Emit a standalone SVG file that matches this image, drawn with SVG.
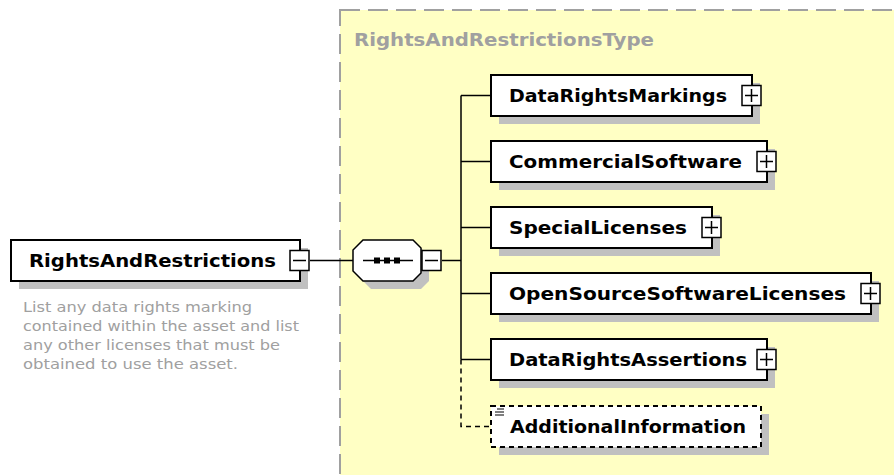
<svg xmlns="http://www.w3.org/2000/svg" width="894" height="475" viewBox="0 0 894 475">
<style>
.box{fill:#fff;stroke:#000;stroke-width:2}
.dbox{fill:#fff;stroke:#000;stroke-width:2;stroke-dasharray:5,4}
.sh{fill:#c0c0c0}
.lbl{font-family:"DejaVu Sans",sans-serif;font-weight:bold;font-size:17px;fill:#000}
.desc{font-family:"DejaVu Sans",sans-serif;font-size:14px;fill:#a0a0a0}
.btn{fill:#fff;stroke:#000;stroke-width:1.5}
.sign{stroke:#000;stroke-width:1.5;fill:none}
.con{stroke:#000;stroke-width:1.5;fill:none}
</style>
<rect x="0" y="0" width="894" height="475" fill="#fff"/>
<g id="type-region">
<rect x="340" y="10" width="560" height="470" fill="#ffffc4" stroke="#a0a0a0" stroke-width="2" stroke-dasharray="20,8"/>
<text x="354" y="46" font-family="DejaVu Sans,sans-serif" font-weight="bold" font-size="17" fill="#a0a0a0" textLength="300" lengthAdjust="spacingAndGlyphs">RightsAndRestrictionsType</text>
</g>
<g id="connectors">
<line class="con" x1="310" y1="260.5" x2="353" y2="260.5"/>
<line class="con" x1="442" y1="260.5" x2="461" y2="260.5"/>
<line class="con" x1="461" y1="95.5" x2="461" y2="359.5"/>
<line class="con" x1="461" y1="95.5" x2="491" y2="95.5"/>
<line class="con" x1="461" y1="161.5" x2="491" y2="161.5"/>
<line class="con" x1="461" y1="227.5" x2="491" y2="227.5"/>
<line class="con" x1="461" y1="293.5" x2="491" y2="293.5"/>
<line class="con" x1="461" y1="359.5" x2="491" y2="359.5"/>
<path class="con" d="M461 359.5 V426.5 H491" stroke-dasharray="5,4"/>
</g>
<g id="RightsAndRestrictions">
<rect class="sh" x="19" y="248" width="289" height="41"/>
<rect class="box" x="11" y="240" width="289" height="41"/>
<text class="lbl" x="29" y="266.5" font-size="18" textLength="247" lengthAdjust="spacingAndGlyphs">RightsAndRestrictions</text>
<rect class="btn" x="290" y="250.5" width="19" height="20"/>
<line class="sign" x1="293" y1="260.5" x2="306" y2="260.5"/>
<text class="desc" x="23" y="312" textLength="229" lengthAdjust="spacingAndGlyphs">List any data rights marking</text>
<text class="desc" x="23" y="331" textLength="276" lengthAdjust="spacingAndGlyphs">contained within the asset and list</text>
<text class="desc" x="23" y="350" textLength="257" lengthAdjust="spacingAndGlyphs">any other licenses that must be</text>
<text class="desc" x="23" y="369" textLength="215" lengthAdjust="spacingAndGlyphs">obtained to use the asset.</text>
</g>
<g id="sequence">
<path class="sh" d="M371 248 H421 L429 256 V281 L421 289 H371 L363 281 V256 Z"/>
<path d="M363 240 H413 L421 248 V273 L413 281 H363 L353 271 V250 Z" fill="#fff" stroke="#000" stroke-width="1.5"/>
<line class="con" x1="363" y1="260.5" x2="413" y2="260.5"/>
<rect x="374" y="257.5" width="6" height="6" fill="#000"/>
<rect x="384" y="257.5" width="6" height="6" fill="#000"/>
<rect x="394" y="257.5" width="6" height="6" fill="#000"/>
<rect class="btn" x="422" y="250.5" width="19" height="20"/>
<line class="sign" x1="425" y1="260.5" x2="438" y2="260.5"/>
</g>
<g id="DataRightsMarkings">
<rect class="sh" x="499" y="83" width="261" height="41"/>
<rect class="box" x="491" y="75" width="261" height="41"/>
<text class="lbl" x="509" y="102" textLength="218" lengthAdjust="spacingAndGlyphs">DataRightsMarkings</text>
<rect class="btn" x="742" y="85.5" width="19" height="20"/>
<path class="sign" d="M745 95.5 H758 M751.5 89 V102"/>
</g>
<g id="CommercialSoftware">
<rect class="sh" x="499" y="149" width="276" height="41"/>
<rect class="box" x="491" y="141" width="276" height="41"/>
<text class="lbl" x="509" y="168" textLength="233" lengthAdjust="spacingAndGlyphs">CommercialSoftware</text>
<rect class="btn" x="757" y="151.5" width="19" height="20"/>
<path class="sign" d="M760 161.5 H773 M766.5 155 V168"/>
</g>
<g id="SpecialLicenses">
<rect class="sh" x="499" y="215" width="221" height="41"/>
<rect class="box" x="491" y="207" width="221" height="41"/>
<text class="lbl" x="509" y="234" textLength="178" lengthAdjust="spacingAndGlyphs">SpecialLicenses</text>
<rect class="btn" x="702" y="217.5" width="19" height="20"/>
<path class="sign" d="M705 227.5 H718 M711.5 221 V234"/>
</g>
<g id="OpenSourceSoftwareLicenses">
<rect class="sh" x="499" y="281" width="380" height="41"/>
<rect class="box" x="491" y="273" width="380" height="41"/>
<text class="lbl" x="509" y="300" textLength="337" lengthAdjust="spacingAndGlyphs">OpenSourceSoftwareLicenses</text>
<rect class="btn" x="861" y="283.5" width="19" height="20"/>
<path class="sign" d="M864 293.5 H877 M870.5 287 V300"/>
</g>
<g id="DataRightsAssertions">
<rect class="sh" x="499" y="347" width="276" height="41"/>
<rect class="box" x="491" y="339" width="276" height="41"/>
<text class="lbl" x="509" y="366" textLength="238" lengthAdjust="spacingAndGlyphs">DataRightsAssertions</text>
<rect class="btn" x="757" y="349.5" width="19" height="20"/>
<path class="sign" d="M760 359.5 H773 M766.5 353 V366"/>
</g>
<g id="AdditionalInformation">
<rect class="sh" x="499" y="414" width="270" height="41"/>
<rect class="dbox" x="491" y="406" width="270" height="41"/>
<path d="M497 409 H504 M495 412 H504 M495 415 H504" stroke="#000" stroke-width="1.2"/>
<text class="lbl" x="510" y="433" textLength="236" lengthAdjust="spacingAndGlyphs">AdditionalInformation</text>
</g>
</svg>
